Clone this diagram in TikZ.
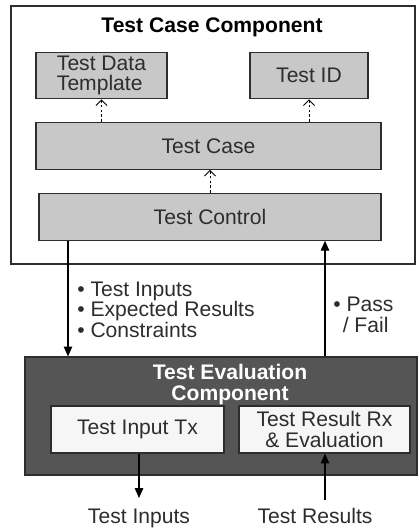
\documentclass[tikz,border=0pt]{standalone}
\usepackage{fontspec}
\setmainfont{Liberation Sans}
\usetikzlibrary{arrows.meta}
\definecolor{boxgray}{RGB}{200, 200, 200}
\definecolor{darkgray}{RGB}{85, 85, 85}
\definecolor{palegray}{RGB}{246, 246, 246}
\definecolor{inkgray}{RGB}{45, 45, 45}

\begin{document}
\begin{tikzpicture}[x=0.025cm, y=-0.025cm,
    font=\fontsize{15}{14.5}\selectfont,
    frame/.style={draw=inkgray, line width=0.8pt, inner sep=0pt},
    graybox/.style={frame, fill=boxgray, minimum height=1.16cm, text=inkgray},
    whitebox/.style={frame, fill=palegray, minimum height=1.175cm, text=inkgray},
    dasharrow/.style={dash pattern=on 2pt off 1.5pt, line width=0.7pt, -{Straight Barb[length=4pt, width=8pt]}},
    solidarrow/.style={line width=0.8pt, -{Triangle[length=7pt, width=6pt]}},
    textlabel/.style={text=inkgray, align=left, inner sep=0pt}]
    \useasboundingbox (0,0) rectangle (418,530);

    % Test case component
    \node[frame, fill=white, minimum width=10.1cm, minimum height=6.45cm] (tcc) at (213,135) {};
    \node[font=\fontsize{15}{15}\selectfont\bfseries, anchor=base] (tcctitle) at (212,33) {Test Case Component};
    \node[graybox, minimum width=3.275cm, align=left] (tdt) at (101.5,75.5) {Test Data\\Template};
    \node[graybox, minimum width=2.95cm] (tid) at (309,75.5) {Test ID};
    \node[graybox, minimum width=8.625cm] (tcase) at (208.5,146) {Test Case};
    \node[graybox, minimum width=8.55cm] (tctl) at (210,217) {Test Control};

    \draw[dasharrow] (tcase.north -| tdt.south) -- (tdt.south);
    \draw[dasharrow] (tcase.north -| tid.south) -- (tid.south);
    \draw[dasharrow] (tctl.north) -- (tcase.south -| tctl.north);

    % Test evaluation component
    \node[frame, fill=darkgray, minimum width=9.8cm, minimum height=2.95cm] (tec) at (221,416) {};
    \node[text=white, font=\fontsize{15}{14.5}\selectfont\bfseries, align=center, anchor=base] (tectitle) at (230,400) {Test Evaluation\\Component};
    \node[whitebox, minimum width=4.325cm] (tin) at (137.5,429.5) {Test Input Tx};
    \node[whitebox, minimum width=4.275cm, align=center] (trx) at (324.5,429.5) {Test Result Rx\\\& Evaluation};

    % Links between the components
    \coordinate (lx) at (68,0);
    \coordinate (rx) at (325,0);
    \draw[solidarrow] (tctl.south -| lx) -- (tec.north -| lx);
    \draw[solidarrow] (tec.north -| rx) -- (tctl.south -| rx);
    \node[textlabel, anchor=base west] (inlist) at (77,337) {• Test Inputs\\• Expected Results\\• Constraints};
    \node[textlabel, anchor=base west] (passfail) at (333,332) {• Pass\\\hspace{0.45em}/ Fail};

    % External inputs and results
    \node[textlabel, anchor=base] (outin) at (139,523) {Test Inputs};
    \node[textlabel, anchor=base] (outres) at (315,523) {Test Results};
    \coordinate (inend) at (139,498);
    \coordinate (resstart) at (325,500);
    \draw[solidarrow] (tin.south -| inend) -- (inend);
    \draw[solidarrow] (resstart) -- (resstart |- trx.south);
\end{tikzpicture}
\end{document}
